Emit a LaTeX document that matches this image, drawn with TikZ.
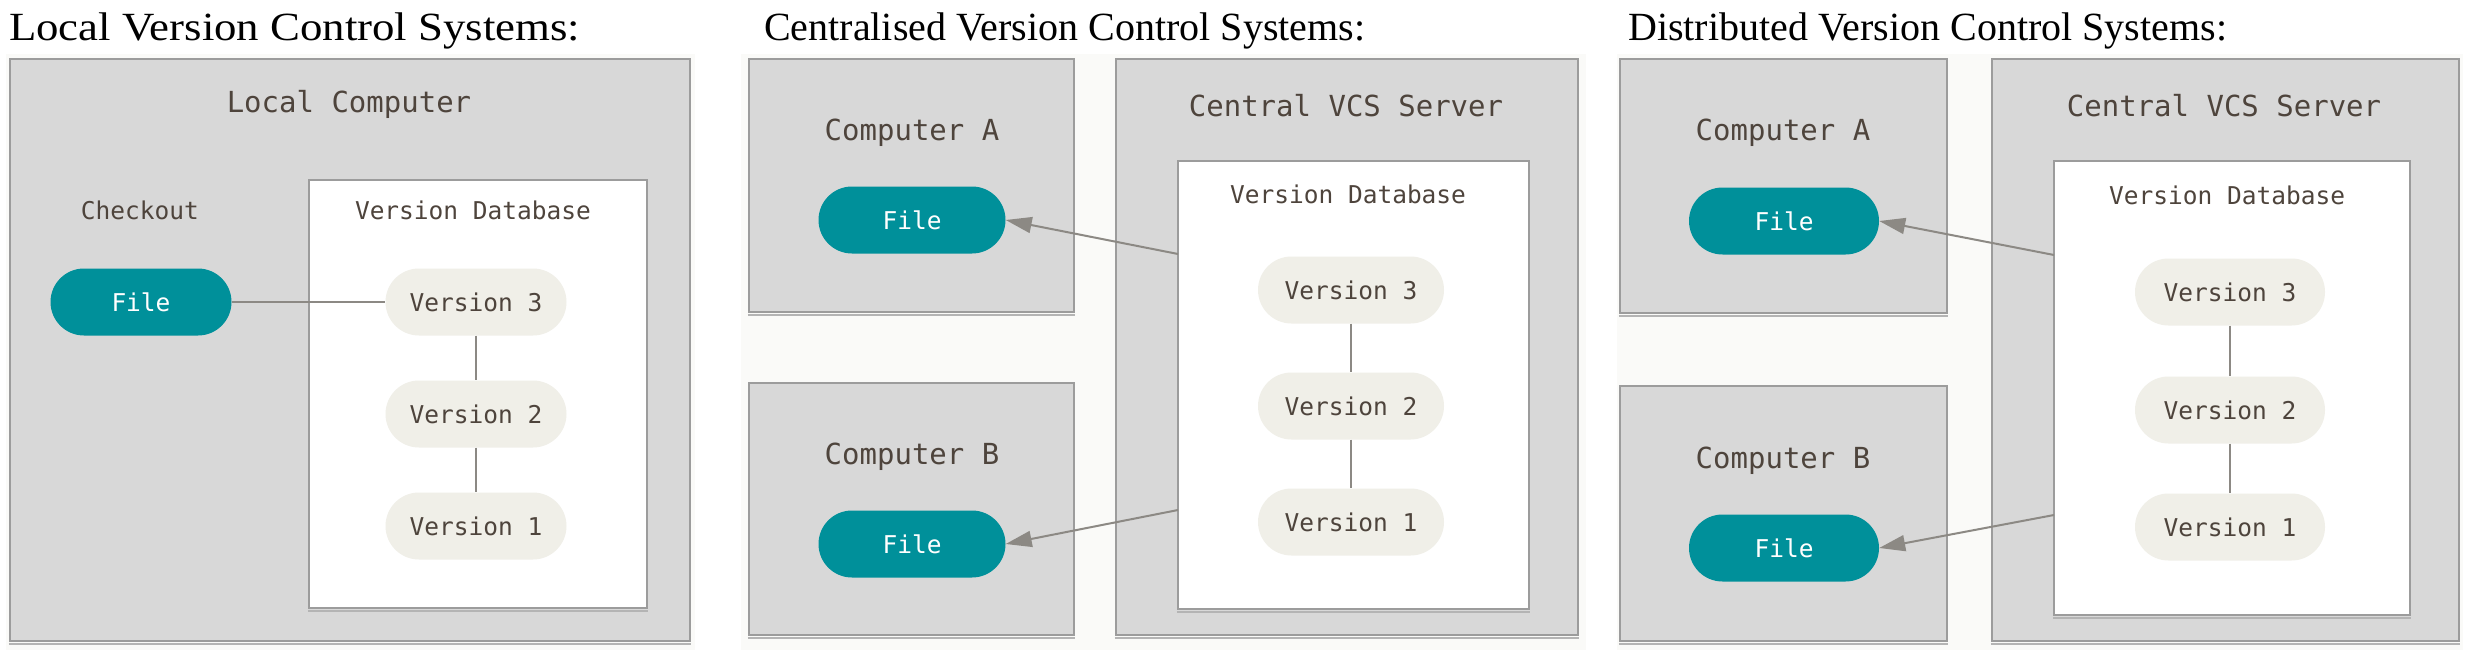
\documentclass[tikz,border=0pt]{standalone}
\usepackage{fontspec}
\setmainfont{Liberation Serif}
\newfontfamily\monof{DejaVu Sans Mono}
\usetikzlibrary{fit,arrows.meta}
\definecolor{boxgray}{HTML}{D8D8D8}
\definecolor{boxline}{HTML}{9C9C9C}
\definecolor{shadowc}{HTML}{B4B4B4}
\definecolor{tealc}{HTML}{00909A}
\definecolor{vfill}{HTML}{F0EFE8}
\definecolor{textc}{HTML}{4E443C}
\definecolor{linec}{HTML}{8C8984}
\definecolor{bgc}{HTML}{FAFAF8}
\tikzset{
  panelbg/.style={fill=bgc, draw=none},
  graybox/.style={fill=boxgray, draw=boxline, line width=2.5pt, inner sep=0pt},
  whitebox/.style={fill=white, draw=boxline, line width=2.5pt, inner sep=0pt},
  shadowline/.style={draw=shadowc, line width=2pt},
  title/.style={anchor=base west, inner sep=0pt, font=\fontsize{40pt}{48pt}\selectfont},
  biglabel/.style={text=textc, inner sep=0pt, font=\monof\fontsize{29pt}{34pt}\selectfont},
  smalllabel/.style={text=textc, inner sep=0pt, font=\monof\fontsize{24.5pt}{29pt}\selectfont},
  filepill/.style={fill=tealc, text=white, minimum width=#1, minimum height=67pt, rounded corners=33.5pt, inner sep=0pt, font=\monof\fontsize{24.5pt}{29pt}\selectfont},
  filepill/.default=185pt,
  verpill/.style={fill=vfill, text=textc, minimum width=#1, minimum height=67pt, rounded corners=33.5pt, inner sep=0pt, font=\monof\fontsize{24.5pt}{29pt}\selectfont},
  verpill/.default=185pt,
  link/.style={draw=linec, line width=2pt},
  arrowlink/.style={draw=linec, line width=2pt, -{Triangle[length=26pt,width=16pt]}},
}
\begin{document}
\begin{tikzpicture}[x=1pt,y=-1pt]
\useasboundingbox (0,0) rectangle (2474,650);
\fill[white] (0,0) rectangle (2474,650);

% ---------- Panel 1 ----------
\fill[panelbg] (6,54) rectangle (695,650);
\node[title] (t1) at (9,41) {\scalebox{1.12}[1]{Local Version Control Systems:}};
\node[graybox, fit={(10,59) (690,641)}] (lc) {};
\draw[shadowline] ([yshift=-2pt]lc.south west) -- ([yshift=-2pt]lc.south east);
\node[biglabel] (lcl) at (349,104) {Local Computer};
\node[whitebox, fit={(309,180) (647,608)}] (db1) {};
\draw[shadowline] ([yshift=-2pt]db1.south west) -- ([yshift=-2pt]db1.south east);
\node[smalllabel] (co1) at (140,210) {Checkout};
\node[smalllabel] (dbl1) at (473,210) {Version Database};
\node[filepill=181pt] (f1) at (141,302) {File};
\node[verpill=181pt] (v13) at (476,302) {Version 3};
\node[verpill=181pt] (v12) at (476,414) {Version 2};
\node[verpill=181pt] (v11) at (476,526) {Version 1};
\draw[link] (f1.east) -- (v13.west);
\draw[link] (v13.south) -- (v12.north);
\draw[link] (v12.south) -- (v11.north);

% ---------- Panel 2 ----------
\fill[panelbg] (741,54) rectangle (1586,650);
\node[title] (t2) at (764,41) {Centralised Version Control Systems:};
\node[graybox, fit={(749,59) (1074,312)}] (ca2) {};
\node[graybox, fit={(749,383) (1074,635)}] (cb2) {};
\node[graybox, fit={(1116,59) (1578,635)}] (sv2) {};
\draw[shadowline] ([yshift=-2pt]ca2.south west) -- ([yshift=-2pt]ca2.south east);
\draw[shadowline] ([yshift=-2pt]cb2.south west) -- ([yshift=-2pt]cb2.south east);
\draw[shadowline] ([yshift=-2pt]sv2.south west) -- ([yshift=-2pt]sv2.south east);
\node[biglabel] (cal2) at (912,133) {Computer A};
\node[biglabel] (cbl2) at (912,457) {Computer B};
\node[filepill=187pt] (fa2) at (912,220) {File};
\node[filepill=187pt] (fb2) at (912,544) {File};
\node[biglabel] (svl2) at (1346,106) {Central VCS Server};
\node[whitebox, fit={(1178,161) (1529,609)}] (db2) {};
\draw[shadowline] ([yshift=-2pt]db2.south west) -- ([yshift=-2pt]db2.south east);
\node[smalllabel] (dbl2) at (1348,194) {Version Database};
\node[verpill=186pt] (v23) at (1351,290) {Version 3};
\node[verpill=186pt] (v22) at (1351,406) {Version 2};
\node[verpill=186pt] (v21) at (1351,522) {Version 1};
\draw[link] (v23.south) -- (v22.north);
\draw[link] (v22.south) -- (v21.north);
\coordinate (sa2) at (1178,254);
\coordinate (sb2) at (1178,510);
\draw[arrowlink] (sa2) -- (fa2.east);
\draw[arrowlink] (sb2) -- (fb2.east);

% ---------- Panel 3 ----------
\fill[panelbg] (1617,54) rectangle (2463,650);
\node[title] (t3) at (1628,41) {Distributed Version Control Systems:};
\node[graybox, fit={(1620,59) (1947,313)}] (ca3) {};
\node[graybox, fit={(1620,386) (1947,641)}] (cb3) {};
\node[graybox, fit={(1992,59) (2459,641)}] (sv3) {};
\draw[shadowline] ([yshift=-2pt]ca3.south west) -- ([yshift=-2pt]ca3.south east);
\draw[shadowline] ([yshift=-2pt]cb3.south west) -- ([yshift=-2pt]cb3.south east);
\draw[shadowline] ([yshift=-2pt]sv3.south west) -- ([yshift=-2pt]sv3.south east);
\node[biglabel] (cal3) at (1783,133) {Computer A};
\node[biglabel] (cbl3) at (1783,461) {Computer B};
\node[filepill=190pt] (fa3) at (1784,221) {File};
\node[filepill=190pt] (fb3) at (1784,548) {File};
\node[biglabel] (svl3) at (2224,106) {Central VCS Server};
\node[whitebox, fit={(2054,161) (2410,615)}] (db3) {};
\draw[shadowline] ([yshift=-2pt]db3.south west) -- ([yshift=-2pt]db3.south east);
\node[smalllabel] (dbl3) at (2227,195) {Version Database};
\node[verpill=190pt] (v33) at (2230,292) {Version 3};
\node[verpill=190pt] (v32) at (2230,410) {Version 2};
\node[verpill=190pt] (v31) at (2230,527) {Version 1};
\draw[link] (v33.south) -- (v32.north);
\draw[link] (v32.south) -- (v31.north);
\coordinate (sa3) at (2054,255);
\coordinate (sb3) at (2054,515);
\draw[arrowlink] (sa3) -- (fa3.east);
\draw[arrowlink] (sb3) -- (fb3.east);
\end{tikzpicture}
\end{document}
